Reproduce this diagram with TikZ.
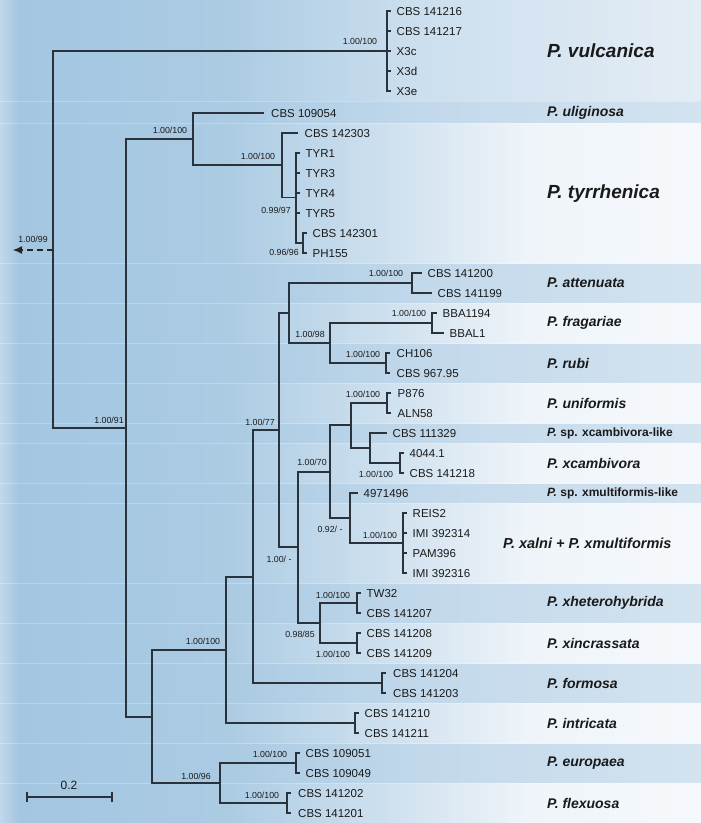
\documentclass[tikz,border=0pt]{standalone}
\usepackage{fontspec}
\setmainfont{Liberation Sans}
\usetikzlibrary{arrows.meta}
\definecolor{bgedge}{HTML}{C0D8EB}
\definecolor{bgblue}{HTML}{A4C6E1}
\definecolor{bgblue2}{HTML}{ABCBE3}
\definecolor{lmid}{HTML}{D3E3F0}
\definecolor{lhi}{HTML}{EEF4F9}
\definecolor{lend}{HTML}{F6F9FC}
\definecolor{dmid}{HTML}{C3D9EB}
\definecolor{dend}{HTML}{D3E3F0}
\definecolor{vmid}{HTML}{CCDFEE}
\definecolor{vend}{HTML}{E4EDF5}
\definecolor{treeline}{HTML}{2A333B}
\definecolor{txt}{HTML}{1A1A1A}
\pgfdeclarehorizontalshading{lightband}{100bp}{color(0bp)=(bgedge); color(25bp)=(bgedge); color(26.3bp)=(bgblue); color(41bp)=(bgblue2); color(54bp)=(lmid); color(62.5bp)=(lhi); color(75bp)=(lend); color(100bp)=(lend)}
\pgfdeclarehorizontalshading{darkband}{100bp}{color(0bp)=(bgedge); color(25bp)=(bgedge); color(26.3bp)=(bgblue); color(42bp)=(bgblue2); color(56bp)=(dmid); color(75bp)=(dend); color(100bp)=(dend)}
\pgfdeclarehorizontalshading{vulcband}{100bp}{color(0bp)=(bgedge); color(25bp)=(bgedge); color(26.3bp)=(bgblue); color(41bp)=(bgblue2); color(55bp)=(vmid); color(75bp)=(vend); color(100bp)=(vend)}
\tikzset{
  branch/.style={draw=treeline, line width=1.05pt},
  leaf/.style={anchor=west, inner xsep=5.5pt, inner ysep=0pt, text=txt,
    font=\fontsize{11.5}{12}\selectfont, text height=8.2pt, text depth=0pt},
  supp/.style={inner sep=0pt, text=txt, font=\fontsize{8.8}{9}\selectfont},
  spbig/.style={anchor=west, inner sep=0pt, text=txt, font=\fontsize{19}{20}\selectfont\bfseries\itshape},
  spmed/.style={anchor=west, inner sep=0pt, text=txt, font=\fontsize{14}{15}\selectfont\bfseries\itshape},
  spsmall/.style={anchor=west, inner sep=0pt, text=txt, font=\fontsize{12}{13}\selectfont\bfseries},
  bandline/.style={draw=white, opacity=0.25, line width=0.7pt}
}
\begin{document}
\begin{tikzpicture}[x=1pt, y=-1pt]
\useasboundingbox (0,0) rectangle (701,823);
% background bands
\shade[shading=vulcband] (0,0) rectangle (701,101);
\foreach \a/\b in {101/123, 263/303, 343/383, 423/443, 483/503, 583/623, 663/703, 743/783}
  \shade[shading=darkband] (0,\a) rectangle (701,\b);
\foreach \a/\b in {123/263, 303/343, 383/423, 443/483, 503/583, 623/663, 703/743, 783/823}
  \shade[shading=lightband] (0,\a) rectangle (701,\b);
\foreach \y in {101,123,263,303,343,383,423,443,483,503,583,623,663,703,743,783}
  \draw[bandline] (0,\y) -- (701,\y);

% internal nodes
\coordinate (R) at (53,250);
\coordinate (V) at (387,51);
\coordinate (Q) at (126,428);
\coordinate (A) at (193,139);
\coordinate (T) at (282,165);
\coordinate (S1) at (296,197.5);
\coordinate (S2) at (303,243);
\coordinate (P) at (152,717);
\coordinate (C) at (226,650);
\coordinate (D) at (253,577);
\coordinate (E) at (279,430);
\coordinate (F) at (289,313);
\coordinate (Att) at (412,283);
\coordinate (H) at (330,343);
\coordinate (Fra) at (432,323);
\coordinate (Rub) at (386,363);
\coordinate (G) at (298,547);
\coordinate (I) at (330,472);
\coordinate (J) at (351,425);
\coordinate (Uni) at (387,403);
\coordinate (K) at (370,448);
\coordinate (Xc) at (400,463);
\coordinate (L) at (350,518);
\coordinate (Xa) at (403,543);
\coordinate (M) at (320,623);
\coordinate (Xh) at (357,603);
\coordinate (Xi) at (357,643);
\coordinate (For) at (382,683);
\coordinate (Int) at (355,723);
\coordinate (N) at (220,783);
\coordinate (Eu) at (296,763);
\coordinate (Fl) at (287,803);
\coordinate (Rout) at (13,250);

% leaves
\node[leaf] (v1) at (391,11) {CBS 141216};
\node[leaf] (v2) at (391,31) {CBS 141217};
\node[leaf] (v3) at (391,51) {X3c};
\node[leaf] (v4) at (391,71) {X3d};
\node[leaf] (v5) at (391,91) {X3e};
\node[leaf, inner xsep=7pt] (u1) at (264,113) {CBS 109054};
\node[leaf, inner xsep=6.5pt] (t0) at (298,133) {CBS 142303};
\node[leaf] (t1) at (300,153) {TYR1};
\node[leaf] (t2) at (300,173) {TYR3};
\node[leaf] (t3) at (300,193) {TYR4};
\node[leaf] (t4) at (300,213) {TYR5};
\node[leaf] (t5) at (307,233) {CBS 142301};
\node[leaf] (t6) at (307,253) {PH155};
\node[leaf] (a1) at (422,273) {CBS 141200};
\node[leaf] (a2) at (432,293) {CBS 141199};
\node[leaf] (f1) at (437,313) {BBA1194};
\node[leaf] (f2) at (444,333) {BBAL1};
\node[leaf, inner xsep=6.5pt] (r1) at (390,353) {CH106};
\node[leaf, inner xsep=6.5pt] (r2) at (390,373) {CBS 967.95};
\node[leaf, inner xsep=6.5pt] (un1) at (391,393) {P876};
\node[leaf, inner xsep=6.5pt] (un2) at (391,413) {ALN58};
\node[leaf] (k1) at (387,433) {CBS 111329};
\node[leaf] (xc1) at (404,453) {4044.1};
\node[leaf] (xc2) at (404,473) {CBS 141218};
\node[leaf] (l1) at (358,493) {4971496};
\node[leaf] (xa1) at (407,513) {REIS2};
\node[leaf] (xa2) at (407,533) {IMI 392314};
\node[leaf] (xa3) at (407,553) {PAM396};
\node[leaf] (xa4) at (407,573) {IMI 392316};
\node[leaf] (xh1) at (361,593) {TW32};
\node[leaf] (xh2) at (361,613) {CBS 141207};
\node[leaf] (xi1) at (361,633) {CBS 141208};
\node[leaf] (xi2) at (361,653) {CBS 141209};
\node[leaf, inner xsep=7pt] (fo1) at (386,673) {CBS 141204};
\node[leaf, inner xsep=7pt] (fo2) at (386,693) {CBS 141203};
\node[leaf] (in1) at (359,713) {CBS 141210};
\node[leaf] (in2) at (359,733) {CBS 141211};
\node[leaf] (eu1) at (300,753) {CBS 109051};
\node[leaf] (eu2) at (300,773) {CBS 109049};
\node[leaf, inner xsep=7pt] (fl1) at (291,793) {CBS 141202};
\node[leaf, inner xsep=7pt] (fl2) at (291,813) {CBS 141201};

% branches
\draw[branch] (R) |- (V);
\draw[branch] (R) |- (Q);
\foreach \l in {v1,v2,v3,v4,v5} \draw[branch] (V) |- (\l.west);
\draw[branch] (Q) |- (A);
\draw[branch] (Q) |- (P);
\draw[branch] (A) |- (u1.west);
\draw[branch] (A) |- (T);
\draw[branch] (T) |- (t0.west);
\draw[branch] (T) |- (S1);
\foreach \l in {t1,t2,t3,t4} \draw[branch] (S1) |- (\l.west);
\draw[branch] (S1) |- (S2);
\foreach \l in {t5,t6} \draw[branch] (S2) |- (\l.west);
\draw[branch] (P) |- (C);
\draw[branch] (P) |- (N);
\draw[branch] (C) |- (D);
\draw[branch] (C) |- (Int);
\draw[branch] (D) |- (E);
\draw[branch] (D) |- (For);
\draw[branch] (E) |- (F);
\draw[branch] (E) |- (G);
\draw[branch] (F) |- (Att);
\draw[branch] (F) |- (H);
\foreach \l in {a1,a2} \draw[branch] (Att) |- (\l.west);
\draw[branch] (H) |- (Fra);
\draw[branch] (H) |- (Rub);
\foreach \l in {f1,f2} \draw[branch] (Fra) |- (\l.west);
\foreach \l in {r1,r2} \draw[branch] (Rub) |- (\l.west);
\draw[branch] (G) |- (I);
\draw[branch] (G) |- (M);
\draw[branch] (I) |- (J);
\draw[branch] (I) |- (L);
\draw[branch] (J) |- (Uni);
\draw[branch] (J) |- (K);
\foreach \l in {un1,un2} \draw[branch] (Uni) |- (\l.west);
\draw[branch] (K) |- (k1.west);
\draw[branch] (K) |- (Xc);
\foreach \l in {xc1,xc2} \draw[branch] (Xc) |- (\l.west);
\draw[branch] (L) |- (l1.west);
\draw[branch] (L) |- (Xa);
\foreach \l in {xa1,xa2,xa3,xa4} \draw[branch] (Xa) |- (\l.west);
\draw[branch] (M) |- (Xh);
\draw[branch] (M) |- (Xi);
\foreach \l in {xh1,xh2} \draw[branch] (Xh) |- (\l.west);
\foreach \l in {xi1,xi2} \draw[branch] (Xi) |- (\l.west);
\foreach \l in {fo1,fo2} \draw[branch] (For) |- (\l.west);
\foreach \l in {in1,in2} \draw[branch] (Int) |- (\l.west);
\draw[branch] (N) |- (Eu);
\draw[branch] (N) |- (Fl);
\foreach \l in {eu1,eu2} \draw[branch] (Eu) |- (\l.west);
\foreach \l in {fl1,fl2} \draw[branch] (Fl) |- (\l.west);

% outgroup arrow
\draw[draw=black!85, line width=1.1pt, dash pattern=on 6pt off 4pt, -{Latex[length=9pt,width=8pt]}] (R) -- (Rout);

% support values
\node[supp] (s1) at (360,41) {1.00/100};
\node[supp] (s2) at (33,239) {1.00/99};
\node[supp] (s3) at (170,130) {1.00/100};
\node[supp] (s4) at (258,156) {1.00/100};
\node[supp] (s5) at (276,210) {0.99/97};
\node[supp] (s6) at (284,252) {0.96/96};
\node[supp] (s7) at (109,420) {1.00/91};
\node[supp] (s8) at (386,273) {1.00/100};
\node[supp] (s9) at (310,334) {1.00/98};
\node[supp] (s10) at (409,313) {1.00/100};
\node[supp] (s11) at (363,354) {1.00/100};
\node[supp] (s12) at (260,422) {1.00/77};
\node[supp] (s13) at (363,394) {1.00/100};
\node[supp] (s14) at (312,462) {1.00/70};
\node[supp] (s15) at (376,474) {1.00/100};
\node[supp] (s16) at (330,529) {0.92/ -};
\node[supp] (s17) at (380,535) {1.00/100};
\node[supp] (s18) at (279,559) {1.00/ -};
\node[supp] (s19) at (333,595) {1.00/100};
\node[supp] (s20) at (300,634) {0.98/85};
\node[supp] (s21) at (333,654) {1.00/100};
\node[supp] (s22) at (203,641) {1.00/100};
\node[supp] (s23) at (270,754) {1.00/100};
\node[supp] (s24) at (196,776) {1.00/96};
\node[supp] (s25) at (262,795) {1.00/100};

% species labels
\node[spbig] (n1) at (547,51) {P. vulcanica};
\node[spmed] (n2) at (547,113) {P. uliginosa};
\node[spbig] (n3) at (547,194) {P. tyrrhenica};
\node[spmed] (n4) at (547,283) {P. attenuata};
\node[spmed] (n5) at (547,323) {P. fragariae};
\node[spmed] (n6) at (547,363) {P. rubi};
\node[spmed] (n7) at (547,403) {P. uniformis};
\node[spsmall] (n8) at (547,433) {\textit{P.} sp. xcambivora-like};
\node[spmed] (n9) at (547,463) {P. xcambivora};
\node[spsmall] (n10) at (547,493) {\textit{P.} sp. xmultiformis-like};
\node[spmed, font=\fontsize{14.5}{15}\selectfont\bfseries\itshape] (n11) at (503,543) {P. xalni + P. xmultiformis};
\node[spmed] (n12) at (547,603) {P. xheterohybrida};
\node[spmed] (n13) at (547,643) {P. xincrassata};
\node[spmed] (n14) at (547,683) {P. formosa};
\node[spmed] (n15) at (547,723) {P. intricata};
\node[spmed] (n16) at (547,763) {P. europaea};
\node[spmed] (n17) at (547,803) {P. flexuosa};

% scale bar
\coordinate (sbL) at (27,797);
\coordinate (sbR) at (112,797);
\draw[branch] (sbL) -- (sbR);
\draw[branch] ([yshift=-5pt]sbL) -- ([yshift=5pt]sbL);
\draw[branch] ([yshift=-5pt]sbR) -- ([yshift=5pt]sbR);
\node[text=txt, font=\fontsize{12}{13}\selectfont, inner sep=0pt] (sbt) at (69,785) {0.2};
\end{tikzpicture}
\end{document}
